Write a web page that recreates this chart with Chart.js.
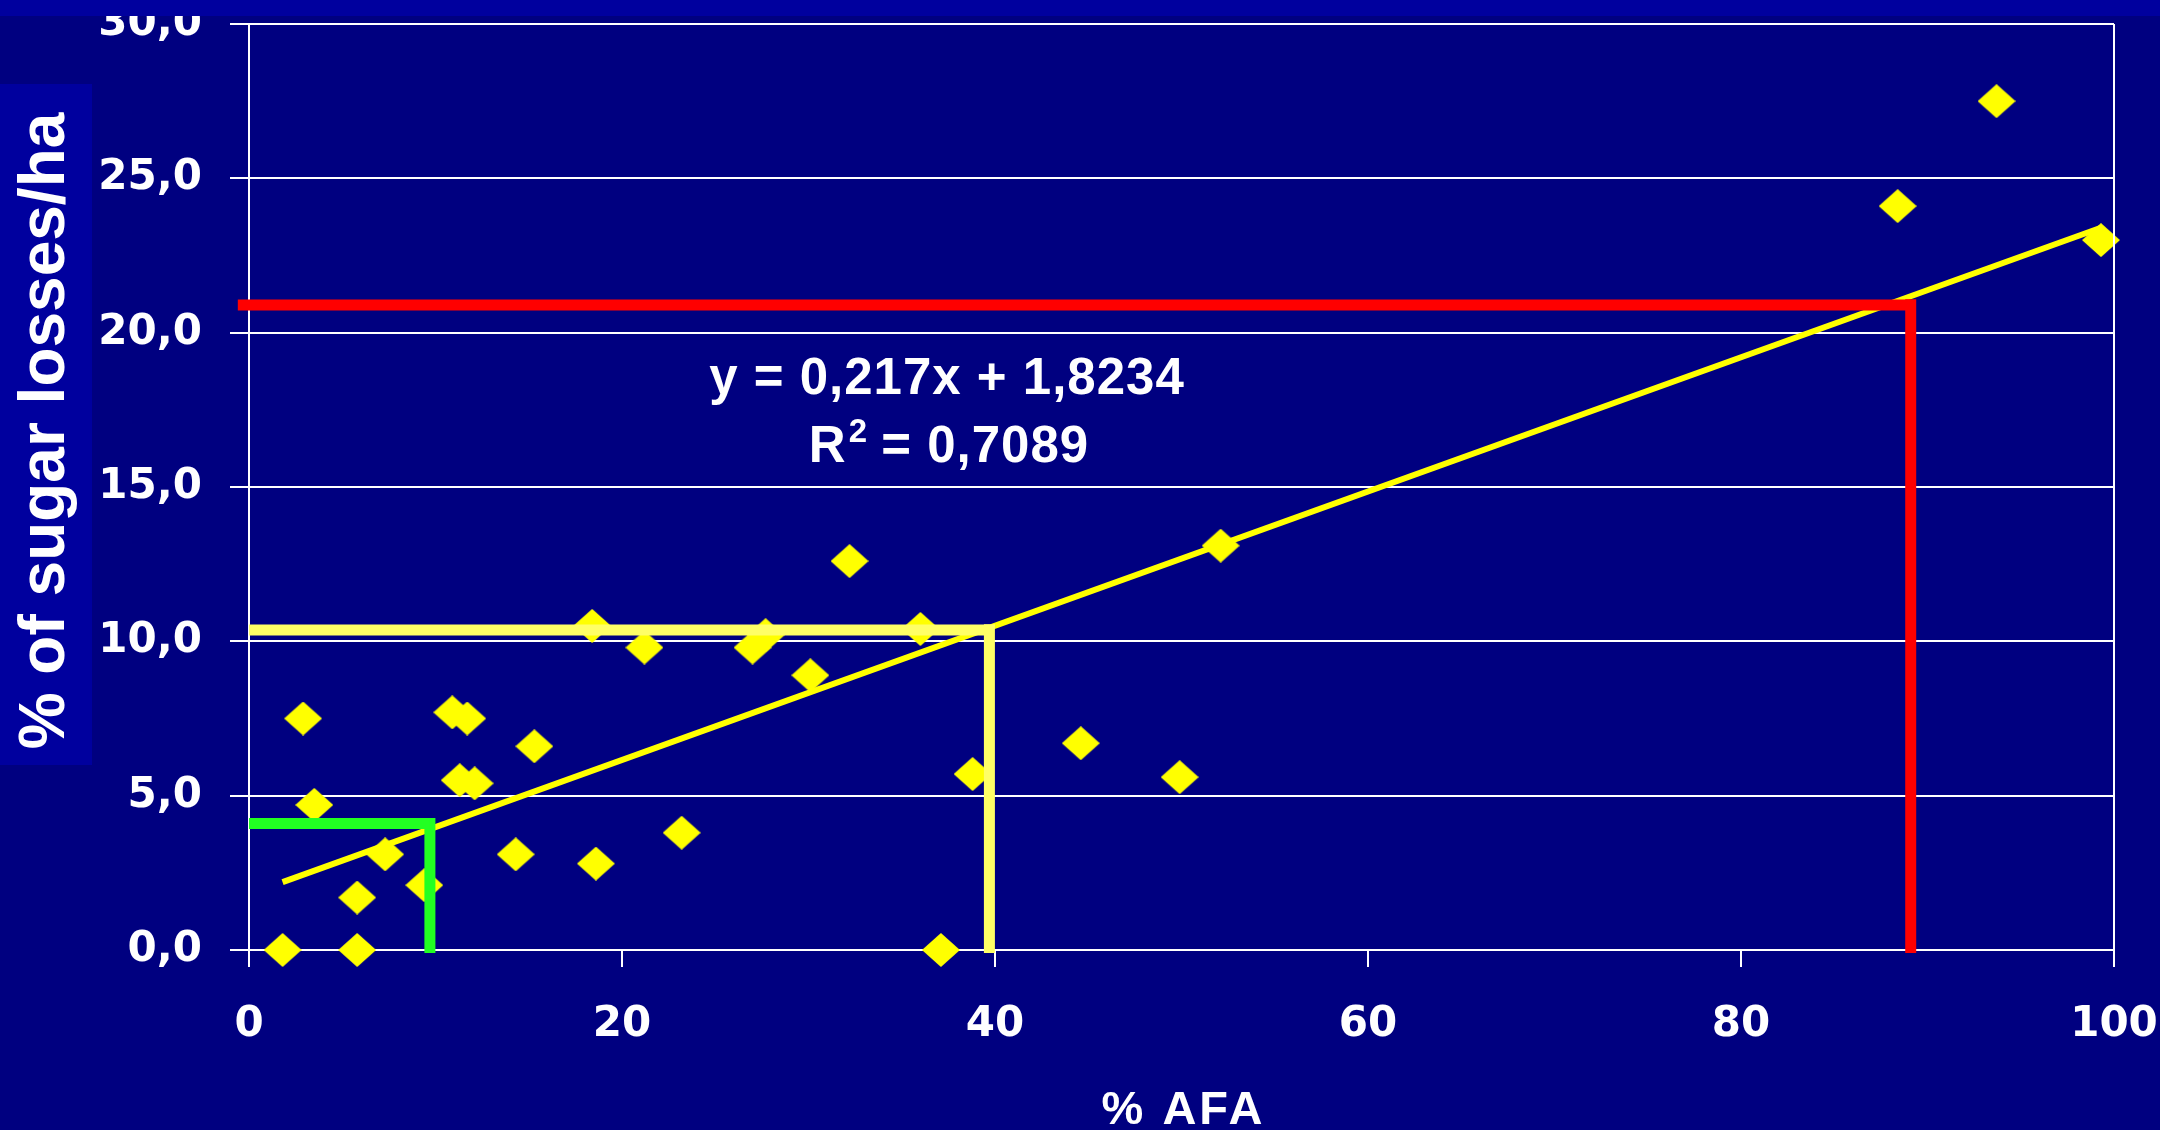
<!DOCTYPE html>
<html>
<head>
<meta charset="utf-8">
<script src="https://cdn.jsdelivr.net/npm/chart.js@4/dist/chart.umd.min.js"></script>
<style>
  body { margin:0; background:#000080; }
  #wrap { width:2160px; height:1130px; }
</style>
</head>
<body>
<div id="wrap"><canvas id="afaChart" width="2160" height="1130"></canvas></div>
<script>
// measured points: % AFA vs % of sugar losses/ha
const afaX = [1.8, 2.9, 3.5, 5.8, 5.8, 7.3, 9.4, 10.9, 11.7, 11.3, 12.1, 14.3, 15.3, 18.4, 18.6,
  21.2, 23.2, 27.0, 27.7, 30.1, 32.2, 36.0, 37.1, 38.8, 44.6, 49.9, 52.1, 88.4, 93.7, 99.3];
const lossY = [0.0, 7.5, 4.7, 0.0, 1.7, 3.1, 2.1, 7.7, 7.5, 5.5, 5.4, 3.1, 6.6, 10.5, 2.8,
  9.8, 3.8, 9.8, 10.2, 8.9, 12.6, 10.4, 0.0, 5.7, 6.7, 5.6, 13.1, 24.1, 27.5, 23.0];

// linear trendline end points (as drawn)
const trendX = [1.8, 99.3];
const trendY = [2.2, 23.4];

const guideNames = ["green", "pale", "red"];
const guideLevel = [4.1, 10.37, 20.9];
const guideDropX = [9.7, 39.7, 89.1];
const guideStartX = [0, 0, -0.6];
const guideColors = ["#22ff22", "#ffff66", "#ff0000"];

const xTicks = [0, 20, 40, 60, 80, 100];
const yTicks = [0, 5, 10, 15, 20, 25, 30];
const equationText = ["y = 0,217x + 1,8234", "R", "2", " = 0,7089"];

// diamond marker
function diamond() {
  const c = document.createElement("canvas");
  c.width = 38; c.height = 34;
  const g = c.getContext("2d");
  g.fillStyle = "#ffff00";
  g.beginPath();
  g.moveTo(19, 0); g.lineTo(38, 17); g.lineTo(19, 34); g.lineTo(0, 17);
  g.closePath(); g.fill();
  return c;
}

const datasets = [];

// colored guide lines on top
guideNames.forEach((n, i) => {
  datasets.push({
    type: "line", label: n + "-h", order: 1, clip: false,
    data: [{ x: guideStartX[i], y: guideLevel[i] }, { x: guideDropX[i], y: guideLevel[i] }],
    borderColor: guideColors[i], borderWidth: 11, pointRadius: 0, borderCapStyle: "butt", tension: 0
  });
  datasets.push({
    type: "line", label: n + "-v", order: 1, clip: false,
    data: [{ x: guideDropX[i], y: guideLevel[i] + 0.18 }, { x: guideDropX[i], y: -0.1 }],
    borderColor: guideColors[i], borderWidth: 11, pointRadius: 0, borderCapStyle: "butt", tension: 0
  });
});

datasets.push({
  type: "line", label: "trend", order: 5, clip: false,
  data: trendX.map((x, i) => ({ x, y: trendY[i] })),
  borderColor: "#ffff00", borderWidth: 6, pointRadius: 0, tension: 0
});

datasets.push({
  type: "scatter", label: "data", order: 10, clip: false,
  data: afaX.map((x, i) => ({ x, y: lossY[i] })),
  pointStyle: diamond(), pointRadius: 18, backgroundColor: "#ffff00", borderColor: "#ffff00"
});

// backgrounds, titles, right border, equation
const decor = {
  id: "decor",
  beforeDraw(chart) {
    const ctx = chart.ctx;
    ctx.save();
    ctx.fillStyle = "#000080";
    ctx.fillRect(0, 0, chart.width, chart.height);
    ctx.fillStyle = "#00009e";
    ctx.fillRect(0, 84, 92, 681);
    ctx.restore();
  },
  afterDraw(chart) {
    const ctx = chart.ctx;
    const a = chart.chartArea;
    ctx.save();
    // top band of the slide covers the top of the "30,0" label
    ctx.fillStyle = "#00009e";
    ctx.fillRect(0, 0, chart.width, 16);

    ctx.strokeStyle = "#ffffff";
    ctx.lineWidth = 2;
    ctx.beginPath();
    ctx.moveTo(a.right, a.top);
    ctx.lineTo(a.right, a.bottom);
    ctx.stroke();

    ctx.fillStyle = "#ffffff";
    // y title
    ctx.save();
    ctx.translate(64, 431);
    ctx.rotate(-Math.PI / 2);
    ctx.font = "bold 64px 'Liberation Sans', Arial, sans-serif";
    ctx.textAlign = "center";
    ctx.textBaseline = "alphabetic";
    ctx.fillText("% of sugar losses/ha", 0, 0);
    ctx.restore();

    // x title
    ctx.font = "bold 47px 'Liberation Sans', Arial, sans-serif";
    ctx.letterSpacing = "3px";
    ctx.textAlign = "center";
    ctx.textBaseline = "alphabetic";
    ctx.fillText("% AFA", (a.left + a.right) / 2 + 2, 1124);

    // trendline equation
    ctx.letterSpacing = "1px";
    const big = "bold 51px 'Liberation Sans', Arial, sans-serif";
    const small = "bold 33px 'Liberation Sans', Arial, sans-serif";
    ctx.font = big;
    ctx.fillText(equationText[0], 947, 394);
    const wR = ctx.measureText(equationText[1]).width;
    const wRest = ctx.measureText(equationText[3]).width;
    ctx.font = small;
    const w2 = ctx.measureText(equationText[2]).width;
    let x0 = 949 - (wR + w2 + wRest) / 2;
    ctx.textAlign = "left";
    ctx.font = big;
    ctx.fillText(equationText[1], x0, 462);
    ctx.font = small;
    ctx.fillText(equationText[2], x0 + wR + 2, 442);
    ctx.font = big;
    ctx.fillText(equationText[3], x0 + wR + w2, 462);
    ctx.restore();
  }
};

const tickFont = { family: "'DejaVu Sans', Verdana, sans-serif", weight: "bold", size: 42 };

new Chart(document.getElementById("afaChart").getContext("2d"), {
  type: "scatter",
  data: { datasets },
  options: {
    responsive: false,
    animation: false,
    layout: { padding: { top: 24, right: 46, left: 0, bottom: 0 } },
    plugins: { legend: { display: false }, tooltip: { enabled: false } },
    scales: {
      x: {
        type: "linear", min: 0, max: 100,
        afterBuildTicks: s => { s.ticks = xTicks.map(v => ({ value: v })); },
        afterFit: s => { s.height = 180; s.paddingLeft = 0; s.paddingRight = 0; },
        ticks: { color: "#ffffff", font: tickFont, padding: 33, maxRotation: 0 },
        grid: { drawOnChartArea: false, drawTicks: true, tickLength: 17, color: "#ffffff", lineWidth: 2 },
        border: { display: true, color: "#ffffff", width: 2 }
      },
      y: {
        type: "linear", min: 0, max: 30,
        afterBuildTicks: s => { s.ticks = yTicks.map(v => ({ value: v })); },
        afterFit: s => { s.width = 249; s.paddingTop = 0; s.paddingBottom = 0; },
        ticks: {
          color: "#ffffff", font: Object.assign({ lineHeight: 1 }, tickFont), padding: 28,
          callback: v => v.toFixed(1).replace(".", ",")
        },
        grid: { color: "#ffffff", lineWidth: 2, tickLength: 19 },
        border: { display: true, color: "#ffffff", width: 2 }
      }
    }
  },
  plugins: [decor]
});
</script>
</body>
</html>
